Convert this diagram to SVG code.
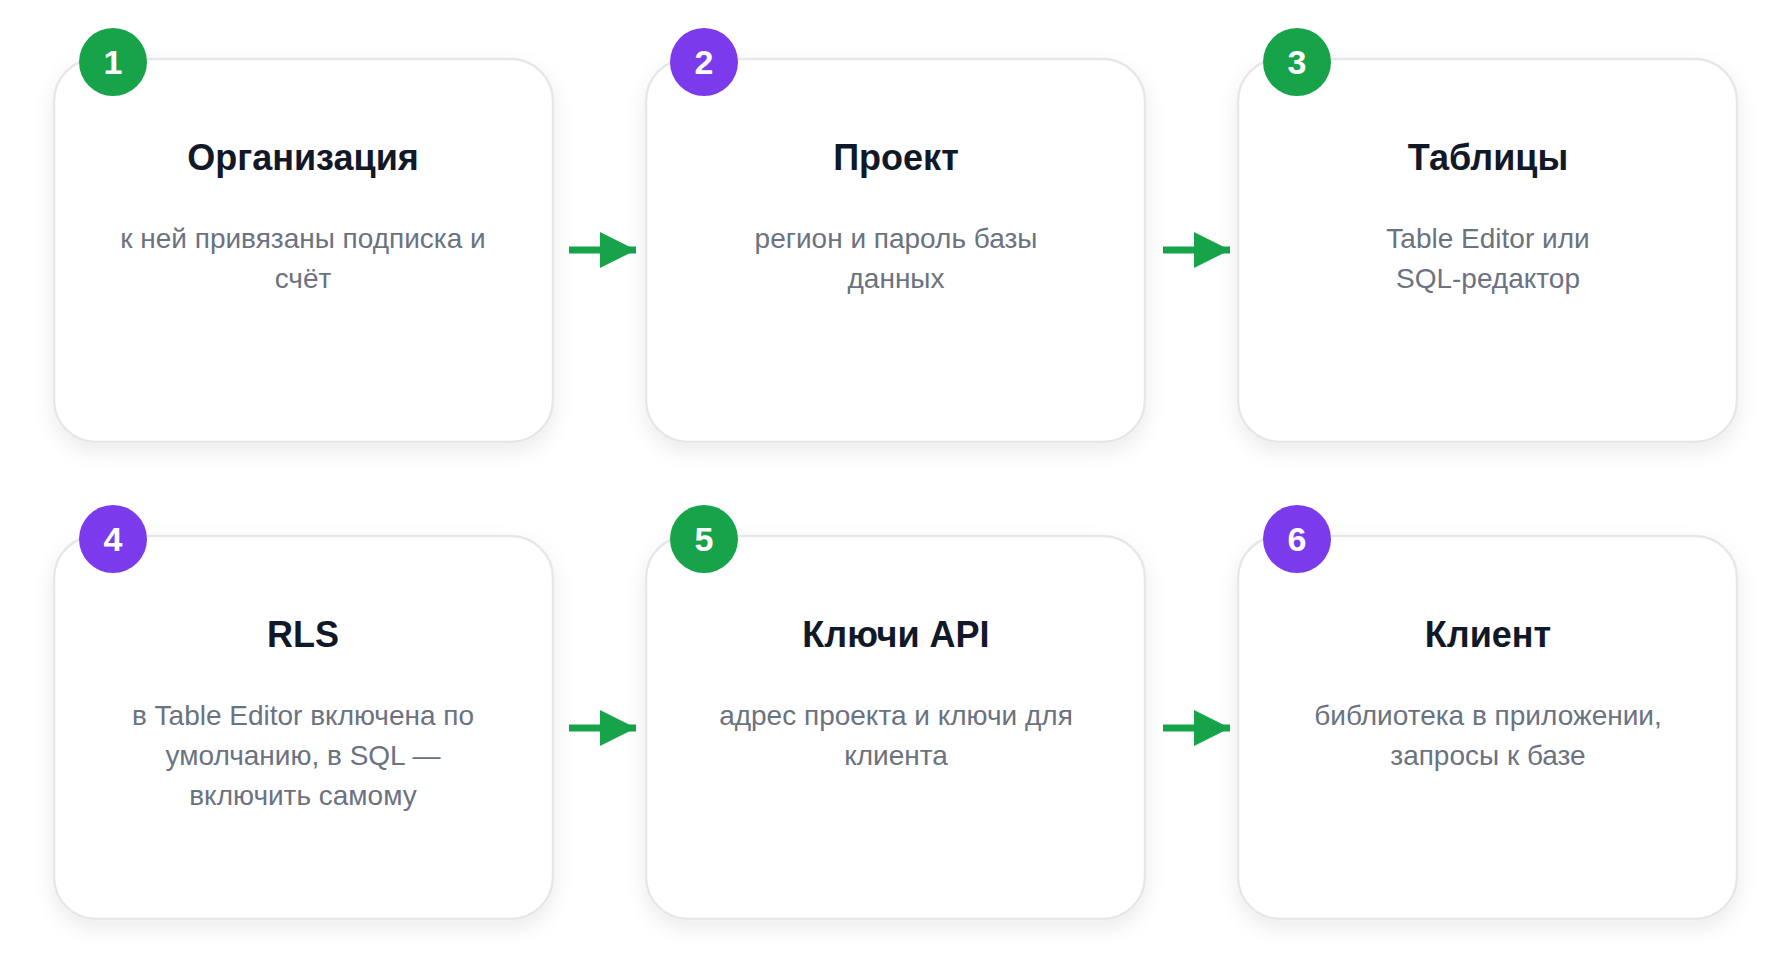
<svg xmlns="http://www.w3.org/2000/svg" width="1790" height="977" viewBox="0 0 1790 977">
<style>
.card{fill:#fff;stroke:#e5e7eb;stroke-width:2.5;filter:url(#sh)}
.t{font-family:"Liberation Sans",Arial,sans-serif;font-weight:bold;font-size:36px;fill:#111827;text-anchor:middle;dominant-baseline:central}
.d{font-family:"Liberation Sans",Arial,sans-serif;font-size:28px;fill:#6b7280;text-anchor:middle;dominant-baseline:central}
.n{font-family:"Liberation Sans",Arial,sans-serif;font-weight:bold;font-size:34px;fill:#fff;text-anchor:middle;dominant-baseline:central}
.g{fill:#16a34a}.p{fill:#7c3aed}
.a{stroke:#16a34a;stroke-width:7;fill:none;marker-end:url(#ah)}
</style>
<defs>
<filter id="sh" x="-10%" y="-10%" width="120%" height="125%"><feDropShadow dx="0" dy="8" stdDeviation="10" flood-color="#000" flood-opacity="0.08"/></filter>
<marker id="ah" markerUnits="userSpaceOnUse" markerWidth="38" markerHeight="36" refX="36" refY="18" orient="auto"><path d="M0,0 L36,18 L0,36 Z" fill="#16a34a"/></marker>
</defs>
<rect width="1790" height="977" fill="#fff"/>
<g id="connectors">
<path class="a" d="M569,250 H636"/>
<path class="a" d="M1163,250 H1230"/>
<path class="a" d="M569,728 H636"/>
<path class="a" d="M1163,728 H1230"/>
</g>
<g id="n1"><rect class="card" x="54" y="59" width="499" height="383" rx="42"/><circle class="g" cx="113" cy="62" r="34"/><text class="n" x="113" y="62">1</text><text class="t" x="303" y="157">Организация</text><text class="d" x="303" y="238">к ней привязаны подписка и</text><text class="d" x="303" y="278">счёт</text></g>
<g id="n2"><rect class="card" x="646" y="59" width="499" height="383" rx="42"/><circle class="p" cx="704" cy="62" r="34"/><text class="n" x="704" y="62">2</text><text class="t" x="896" y="157">Проект</text><text class="d" x="896" y="238">регион и пароль базы</text><text class="d" x="896" y="278">данных</text></g>
<g id="n3"><rect class="card" x="1238" y="59" width="499" height="383" rx="42"/><circle class="g" cx="1297" cy="62" r="34"/><text class="n" x="1297" y="62">3</text><text class="t" x="1488" y="157">Таблицы</text><text class="d" x="1488" y="238">Table Editor или</text><text class="d" x="1488" y="278">SQL-редактор</text></g>
<g id="n4"><rect class="card" x="54" y="536" width="499" height="383" rx="42"/><circle class="p" cx="113" cy="539" r="34"/><text class="n" x="113" y="539">4</text><text class="t" x="303" y="634">RLS</text><text class="d" x="303" y="715">в Table Editor включена по</text><text class="d" x="303" y="755">умолчанию, в SQL —</text><text class="d" x="303" y="795">включить самому</text></g>
<g id="n5"><rect class="card" x="646" y="536" width="499" height="383" rx="42"/><circle class="g" cx="704" cy="539" r="34"/><text class="n" x="704" y="539">5</text><text class="t" x="896" y="634">Ключи API</text><text class="d" x="896" y="715">адрес проекта и ключи для</text><text class="d" x="896" y="755">клиента</text></g>
<g id="n6"><rect class="card" x="1238" y="536" width="499" height="383" rx="42"/><circle class="p" cx="1297" cy="539" r="34"/><text class="n" x="1297" y="539">6</text><text class="t" x="1488" y="634">Клиент</text><text class="d" x="1488" y="715">библиотека в приложении,</text><text class="d" x="1488" y="755">запросы к базе</text></g>
</svg>
